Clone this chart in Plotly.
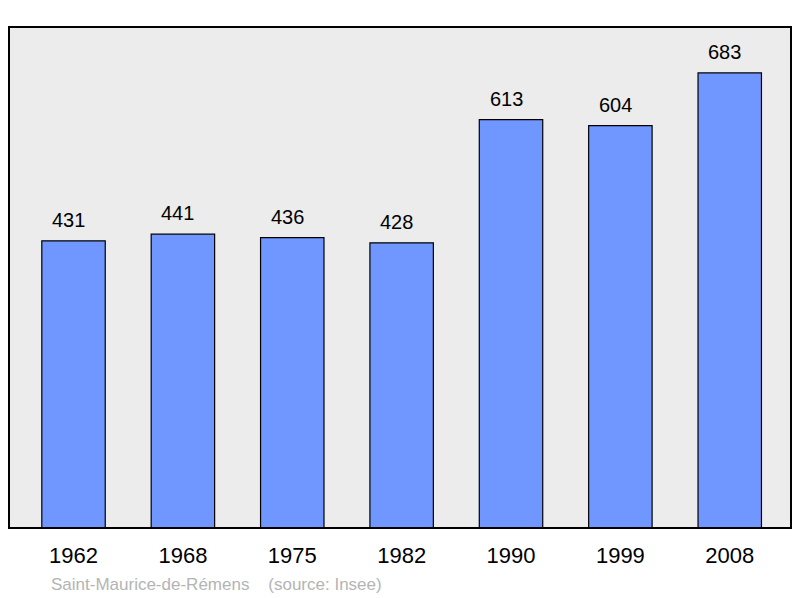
import plotly.graph_objects as go

years = ['1962', '1968', '1975', '1982', '1990', '1999', '2008']
population = [431, 441, 436, 428, 613, 604, 683]
footer = 'Saint-Maurice-de-Rémens&nbsp;&nbsp;&nbsp;&nbsp;(source: Insee)'

idx = list(range(len(years)))

fig = go.Figure(go.Bar(
    x=idx,
    y=population,
    width=0.58,
    marker=dict(color='#7096ff', line=dict(color='#000000', width=1.2)),
    hoverinfo='skip',
))

for i, v in zip(idx, population):
    fig.add_annotation(x=i, y=v, text=str(v), showarrow=False,
                       yanchor='bottom', yshift=8, xshift=-5,
                       font=dict(family='Liberation Sans', size=20, color='#000'))

# frame around the plot area
fig.add_shape(type='rect', xref='paper', yref='paper', x0=0, y0=0, x1=1, y1=1,
              line=dict(color='#000', width=2), layer='above')

fig.add_annotation(xref='paper', yref='paper', x=0.051, y=-0.112,
                   xanchor='left', yanchor='middle', showarrow=False,
                   text=footer,
                   font=dict(family='Liberation Sans', size=17, color='#b4b4b4'))

# page body has an 8px margin, so the figure is a bit smaller than the window
fig.update_layout(
    width=792, height=590,
    margin=dict(l=1, r=9, t=19, b=70),
    paper_bgcolor='white',
    plot_bgcolor='#ececec',
    showlegend=False,
    xaxis=dict(range=[-0.59, 6.56], tickmode='array', tickvals=idx,
               ticktext=years, showgrid=False, zeroline=False,
               ticks='', ticklen=0, ticklabelstandoff=12,
               tickfont=dict(family='Liberation Sans', size=22, color='#000')),
    yaxis=dict(range=[0, 752], showgrid=False, zeroline=False,
               showticklabels=False),
)

fig.write_html('out.html')
